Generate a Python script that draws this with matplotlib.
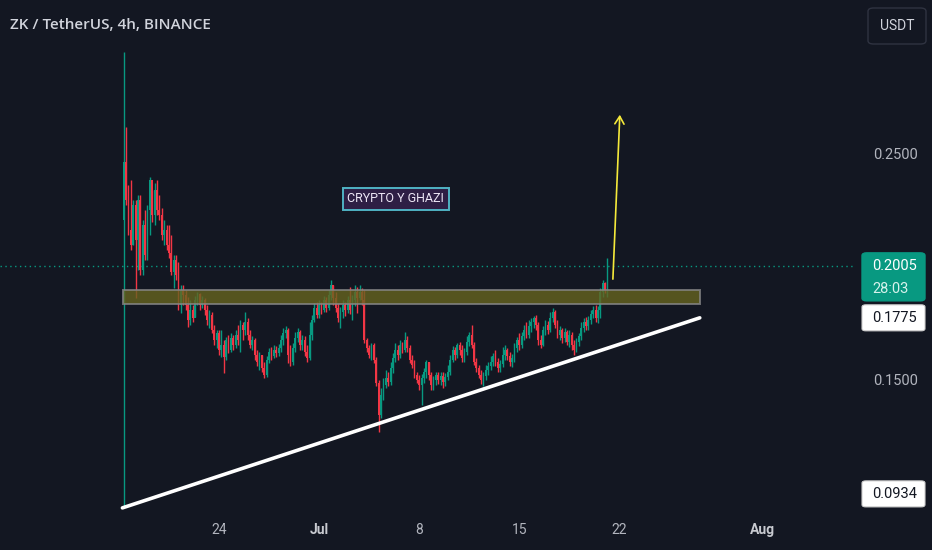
import datetime
import matplotlib
matplotlib.use('Agg')
import matplotlib.pyplot as plt
import matplotlib.dates as mdates
from matplotlib.patches import FancyBboxPatch, Rectangle

#Chart data (ZK/USDT 4h candles)
first_candle = datetime.datetime(2024, 6, 17, 8, 0)
first_open = 0.2208

closes = [0.2465, 0.2296, 0.2164, 0.2097, 0.2274, 0.2119, 0.2296, 0.1987, 0.2186, 0.2053,
          0.2252, 0.2385, 0.2230, 0.2341, 0.2252, 0.2230, 0.2142, 0.2164, 0.2097, 0.2062,
          0.1978, 0.2031, 0.1965, 0.1832, 0.1898, 0.1876, 0.1832, 0.1765, 0.1810, 0.1774,
          0.1854, 0.1880, 0.1832, 0.1854, 0.1810, 0.1765, 0.1788, 0.1721, 0.1677, 0.1708,
          0.1633, 0.1655, 0.1602, 0.1677, 0.1633, 0.1686, 0.1655, 0.1699, 0.1677, 0.1743,
          0.1721, 0.1757, 0.1699, 0.1655, 0.1677, 0.1611, 0.1580, 0.1611, 0.1553, 0.1522,
          0.1588, 0.1624, 0.1606, 0.1633, 0.1619, 0.1642, 0.1677, 0.1708, 0.1721, 0.1611,
          0.1580, 0.1642, 0.1686, 0.1712, 0.1655, 0.1677, 0.1624, 0.1597, 0.1699, 0.1765,
          0.1819, 0.1788, 0.1832, 0.1810, 0.1854, 0.1819, 0.1876, 0.1920, 0.1863, 0.1819,
          0.1774, 0.1801, 0.1832, 0.1810, 0.1854, 0.1810, 0.1854, 0.1889, 0.1863, 0.1889,
          0.1854, 0.1677, 0.1642, 0.1611, 0.1655, 0.1588, 0.1487, 0.1345, 0.1434, 0.1478,
          0.1509, 0.1491, 0.1553, 0.1597, 0.1633, 0.1611, 0.1655, 0.1633, 0.1677, 0.1642,
          0.1588, 0.1566, 0.1522, 0.1500, 0.1478, 0.1509, 0.1535, 0.1580, 0.1522, 0.1478,
          0.1500, 0.1522, 0.1500, 0.1518, 0.1491, 0.1513, 0.1535, 0.1588, 0.1633, 0.1611,
          0.1655, 0.1633, 0.1597, 0.1624, 0.1668, 0.1699, 0.1655, 0.1580, 0.1553, 0.1522,
          0.1500, 0.1518, 0.1544, 0.1562, 0.1580, 0.1606, 0.1580, 0.1553, 0.1571, 0.1611,
          0.1633, 0.1606, 0.1580, 0.1597, 0.1642, 0.1677, 0.1655, 0.1695, 0.1721, 0.1699,
          0.1739, 0.1757, 0.1774, 0.1743, 0.1677, 0.1655, 0.1721, 0.1743, 0.1721, 0.1774,
          0.1801, 0.1743, 0.1699, 0.1721, 0.1686, 0.1712, 0.1668, 0.1699, 0.1655, 0.1633,
          0.1668, 0.1695, 0.1730, 0.1757, 0.1739, 0.1765, 0.1792, 0.1810, 0.1774, 0.1810,
          0.1889, 0.1929, 0.1898, 0.2005]

highs = [0.2951, 0.2619, 0.2363, 0.2385, 0.2296, 0.2296, 0.2319, 0.2319, 0.2208, 0.2252,
         0.2274, 0.2398, 0.2341, 0.2372, 0.2385, 0.2319, 0.2261, 0.2208, 0.2186, 0.2186,
         0.2142, 0.2053, 0.2053, 0.2022, 0.1920, 0.1920, 0.1898, 0.1867, 0.1854, 0.1832,
         0.1872, 0.1889, 0.1885, 0.1872, 0.1863, 0.1832, 0.1810, 0.1801, 0.1743, 0.1721,
         0.1721, 0.1721, 0.1677, 0.1690, 0.1699, 0.1708, 0.1699, 0.1721, 0.1743, 0.1765,
         0.1757, 0.1801, 0.1774, 0.1721, 0.1695, 0.1686, 0.1633, 0.1624, 0.1611, 0.1580,
         0.1606, 0.1642, 0.1646, 0.1655, 0.1650, 0.1659, 0.1699, 0.1730, 0.1739, 0.1730,
         0.1655, 0.1664, 0.1712, 0.1730, 0.1721, 0.1699, 0.1695, 0.1655, 0.1757, 0.1788,
         0.1841, 0.1845, 0.1854, 0.1845, 0.1872, 0.1867, 0.1898, 0.1942, 0.1920, 0.1889,
         0.1841, 0.1823, 0.1854, 0.1845, 0.1872, 0.1911, 0.1876, 0.1920, 0.1911, 0.1920,
         0.1907, 0.1898, 0.1686, 0.1655, 0.1664, 0.1664, 0.1602, 0.1500, 0.1465, 0.1509,
         0.1544, 0.1535, 0.1580, 0.1619, 0.1664, 0.1655, 0.1677, 0.1668, 0.1712, 0.1695,
         0.1655, 0.1611, 0.1588, 0.1535, 0.1522, 0.1527, 0.1553, 0.1588, 0.1580, 0.1535,
         0.1518, 0.1535, 0.1535, 0.1535, 0.1535, 0.1531, 0.1566, 0.1611, 0.1650, 0.1646,
         0.1664, 0.1668, 0.1655, 0.1642, 0.1695, 0.1712, 0.1743, 0.1668, 0.1597, 0.1566,
         0.1544, 0.1535, 0.1566, 0.1580, 0.1606, 0.1619, 0.1633, 0.1597, 0.1588, 0.1646,
         0.1655, 0.1642, 0.1624, 0.1615, 0.1664, 0.1690, 0.1708, 0.1712, 0.1743, 0.1757,
         0.1765, 0.1774, 0.1783, 0.1788, 0.1757, 0.1699, 0.1739, 0.1765, 0.1761, 0.1801,
         0.1819, 0.1810, 0.1765, 0.1739, 0.1730, 0.1730, 0.1721, 0.1721, 0.1712, 0.1677,
         0.1686, 0.1708, 0.1757, 0.1774, 0.1779, 0.1783, 0.1810, 0.1827, 0.1832, 0.1827,
         0.1907, 0.1942, 0.1933, 0.2040]

lows = [0.0934, 0.2274, 0.2142, 0.2075, 0.2097, 0.1863, 0.1987, 0.1965, 0.1965, 0.2031,
        0.2031, 0.2142, 0.2199, 0.2186, 0.2230, 0.2208, 0.2119, 0.2097, 0.2075, 0.2040,
        0.1965, 0.1907, 0.1942, 0.1810, 0.1796, 0.1832, 0.1810, 0.1734, 0.1743, 0.1757,
        0.1779, 0.1832, 0.1810, 0.1819, 0.1788, 0.1743, 0.1730, 0.1708, 0.1655, 0.1642,
        0.1611, 0.1602, 0.1531, 0.1588, 0.1619, 0.1624, 0.1633, 0.1642, 0.1655, 0.1624,
        0.1677, 0.1699, 0.1677, 0.1642, 0.1633, 0.1588, 0.1562, 0.1544, 0.1535, 0.1509,
        0.1513, 0.1575, 0.1588, 0.1597, 0.1602, 0.1606, 0.1624, 0.1655, 0.1686, 0.1575,
        0.1562, 0.1566, 0.1624, 0.1668, 0.1633, 0.1633, 0.1606, 0.1580, 0.1588, 0.1677,
        0.1757, 0.1774, 0.1774, 0.1792, 0.1801, 0.1801, 0.1810, 0.1854, 0.1832, 0.1801,
        0.1757, 0.1730, 0.1774, 0.1783, 0.1796, 0.1792, 0.1765, 0.1827, 0.1796, 0.1854,
        0.1832, 0.1664, 0.1624, 0.1597, 0.1588, 0.1575, 0.1473, 0.1270, 0.1332, 0.1411,
        0.1465, 0.1473, 0.1478, 0.1531, 0.1580, 0.1588, 0.1597, 0.1619, 0.1624, 0.1624,
        0.1575, 0.1553, 0.1509, 0.1487, 0.1456, 0.1389, 0.1487, 0.1509, 0.1500, 0.1456,
        0.1456, 0.1478, 0.1482, 0.1478, 0.1465, 0.1473, 0.1500, 0.1522, 0.1580, 0.1588,
        0.1597, 0.1611, 0.1580, 0.1580, 0.1611, 0.1650, 0.1642, 0.1566, 0.1535, 0.1509,
        0.1482, 0.1473, 0.1500, 0.1522, 0.1544, 0.1562, 0.1562, 0.1535, 0.1535, 0.1557,
        0.1588, 0.1588, 0.1562, 0.1557, 0.1580, 0.1624, 0.1633, 0.1642, 0.1677, 0.1686,
        0.1686, 0.1712, 0.1730, 0.1721, 0.1655, 0.1642, 0.1650, 0.1699, 0.1704, 0.1712,
        0.1757, 0.1730, 0.1686, 0.1677, 0.1664, 0.1668, 0.1655, 0.1646, 0.1633, 0.1611,
        0.1624, 0.1650, 0.1677, 0.1712, 0.1721, 0.1721, 0.1748, 0.1774, 0.1757, 0.1752,
        0.1774, 0.1867, 0.1885, 0.1867]

#Drawings on the chart
zone_top = 0.1898
zone_bottom = 0.1836
zone_start = datetime.datetime(2024, 6, 17, 7, 0)
zone_end = datetime.datetime(2024, 7, 27, 15, 0)

trend_start = (datetime.datetime(2024, 6, 17, 6, 0), 0.0934)
trend_end = (datetime.datetime(2024, 7, 27, 15, 0), 0.1775)

arrow_start = (datetime.datetime(2024, 7, 21, 13, 0), 0.1934)
arrow_end = (datetime.datetime(2024, 7, 22, 1, 0), 0.2686)

note_text = 'CRYPTO Y GHAZI'
note_pos = (datetime.datetime(2024, 7, 6, 9, 0), 0.2301)

last_price = 0.2005
countdown = '28:03'
price_ticks = [0.15, 0.25]
date_ticks = [datetime.datetime(2024, 6, 24), datetime.datetime(2024, 7, 1), datetime.datetime(2024, 7, 8),
              datetime.datetime(2024, 7, 15), datetime.datetime(2024, 7, 22), datetime.datetime(2024, 8, 1)]
date_labels = ['24', 'Jul', '8', '15', '22', 'Aug']

#Colours
bg = '#131722'
up = '#089981'
down = '#f23645'
txt = '#b2b5be'

W, H = 932, 550
fig = plt.figure(figsize=(W / 100, H / 100), dpi=100, facecolor=bg)
ax = fig.add_axes([0, 35 / H, 855 / W, 515 / H])
ax.set_facecolor(bg)
for s in ax.spines.values():
    s.set_visible(False)

t0 = mdates.date2num(datetime.datetime(2024, 7, 1))
ax.set_xlim(t0 - 22.31, t0 + 37.48)
ax.set_ylim(0.09025, 0.31814)

#Candles
opens = [first_open] + closes[:-1]
step = 4 / 24
for i in range(len(closes)):
    t = mdates.date2num(first_candle) + i * step
    o, h, l, c = opens[i], highs[i], lows[i], closes[i]
    col = up if c >= o else down
    ax.vlines(t, l, h, color=col, linewidth=1.0, zorder=3)
    ax.bar(t, max(abs(c - o), 0.0003), width=step * 0.72, bottom=min(o, c),
           color=col, linewidth=0, zorder=3)

#Resistance zone
zx0 = mdates.date2num(zone_start)
zx1 = mdates.date2num(zone_end)
ax.add_patch(Rectangle((zx0, zone_bottom), zx1 - zx0, zone_top - zone_bottom,
                       facecolor='#66641f', alpha=0.8, edgecolor='#858585',
                       linewidth=1.4, zorder=4))

#Trend line
ax.plot([trend_start[0], trend_end[0]], [trend_start[1], trend_end[1]],
        color='white', linewidth=2.6, solid_capstyle='round', zorder=5)

#Arrow
ax.annotate('', xy=(mdates.date2num(arrow_end[0]), arrow_end[1]),
            xytext=(mdates.date2num(arrow_start[0]), arrow_start[1]),
            arrowprops=dict(arrowstyle='->,head_length=0.55,head_width=0.33',
                            color='#f5e93a', linewidth=1.2), zorder=6)

#Note box
ax.text(mdates.date2num(note_pos[0]), note_pos[1], note_text, family='Roboto',
        fontsize=9, color='#ece6f5', ha='center', va='center', zorder=6,
        bbox=dict(boxstyle='square,pad=0.35', facecolor='#2e1f45',
                  edgecolor='#4fb3c4', linewidth=1.4))

#Last price dotted line
ax.axhline(last_price, color=up, linewidth=1, linestyle=(0, (1, 2.5)), zorder=2)

#Axes ticks
ax.set_xticks([mdates.date2num(d) for d in date_ticks])
ax.set_xticklabels(date_labels)
ax.tick_params(axis='x', length=0, pad=6, labelsize=10, labelcolor=txt)
for lab in ax.get_xticklabels():
    lab.set_family('Roboto')
    if lab.get_text() in ('Jul', 'Aug'):
        lab.set_fontweight('bold')
        lab.set_color('#c8cad0')

ax.yaxis.tick_right()
ax.set_yticks(price_ticks)
ax.set_yticklabels(['{:.4f}'.format(v) for v in price_ticks])
ax.tick_params(axis='y', length=0, pad=13, labelsize=10.5, labelcolor=txt)
for lab in ax.get_yticklabels():
    lab.set_family('Roboto')

#Price tags on the right axis
def price_px(price):
    return ax.transData.transform((t0, price))[1]

def tag(yc, h, fc, ec):
    box = FancyBboxPatch((862 / W, (yc - h / 2) / H), 63 / W, h / H,
                         boxstyle='round,pad=0,rounding_size=0.004',
                         transform=fig.transFigure, facecolor=fc, edgecolor=ec,
                         linewidth=0.8, zorder=10)
    fig.add_artist(box)

yp = price_px(last_price)
fig.add_artist(FancyBboxPatch((862 / W, (yp - 35) / H), 63 / W, 48 / H,
                              boxstyle='round,pad=0,rounding_size=0.005',
                              transform=fig.transFigure, facecolor=up,
                              edgecolor=up, zorder=10))
fig.text(872 / W, yp / H, '{:.4f}'.format(last_price), family='Roboto', fontsize=10.5,
         color='white', va='center', ha='left', zorder=11)
fig.text(872 / W, (yp - 23) / H, countdown, family='Roboto', fontsize=10.5,
         color='#d6f2ec', va='center', ha='left', zorder=11)

for p, shift in [(trend_end[1], 0), (trend_start[1], 14)]:
    yy = price_px(p) + shift
    tag(yy, 26, 'white', '#d0d0d0')
    fig.text(872 / W, yy / H, '{:.4f}'.format(p), family='Roboto', fontsize=10.5,
             color='#131722', va='center', ha='left', zorder=11)

#Title
fig.text(10 / W, 1 - 25 / H, 'ZK / TetherUS, 4h, BINANCE', family='Open Sans',
         fontweight='semibold', fontsize=11, color='#d1d4dc', va='center', ha='left')

#Currency button
fig.add_artist(FancyBboxPatch((868 / W, 1 - 44 / H), 58 / W, 36 / H,
                              boxstyle='round,pad=0,rounding_size=0.006',
                              transform=fig.transFigure, facecolor='none',
                              edgecolor='#2f3341', linewidth=1))
fig.text(897 / W, 1 - 26 / H, 'USDT', family='Roboto', fontsize=10,
         color='#d1d4dc', va='center', ha='center')

plt.savefig('out.png', dpi=100, facecolor=bg)
